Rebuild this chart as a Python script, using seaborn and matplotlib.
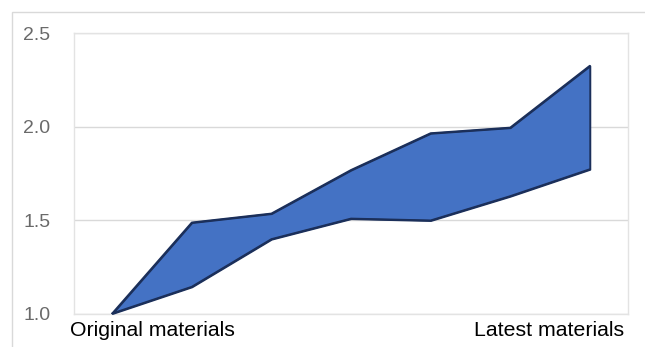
import matplotlib
matplotlib.use("Agg")
import matplotlib.pyplot as plt
import seaborn as sns
import pandas as pd
from matplotlib.patches import Rectangle

steps = [0, 1, 2, 3, 4, 5, 6]
upper = [1.0, 1.487, 1.535, 1.768, 1.965, 1.995, 2.326]
lower = [1.0, 1.143, 1.398, 1.508, 1.498, 1.628, 1.772]
y_ticks = [1.0, 1.5, 2.0, 2.5]
y_tick_labels = ["1.0", "1.5", "2.0", "2.5"]
x_labels = ["Original materials", "Latest materials"]

sns.set_theme(style="white")
plt.rcParams["font.family"] = ["Liberation Sans", "DejaVu Sans"]

df = pd.DataFrame({"step": steps, "upper": upper, "lower": lower})

fig = plt.figure(figsize=(6.45, 3.47), dpi=100)
ax = fig.add_axes([74 / 645, 1 - 313.5 / 347, (628 - 74) / 645, (313.5 - 33.3) / 347])

fill = "#4472C4"
edge = "#1B2F5A"
ax.fill_between(df["step"], df["lower"], df["upper"], facecolor=fill,
                edgecolor=edge, linewidth=1.4, zorder=3)
sns.lineplot(data=df, x="step", y="upper", color=edge, linewidth=1.4, ax=ax, zorder=4)
sns.lineplot(data=df, x="step", y="lower", color=edge, linewidth=1.4, ax=ax, zorder=4)

ax.set_xlim(-0.48, 6.48)
ax.set_ylim(1.0, 2.5)
ax.set_yticks(y_ticks)
ax.set_yticklabels(y_tick_labels, color="#6A6A6A", fontsize=14)
ax.tick_params(axis="y", length=0, pad=17)
ax.set_xticks([])
ax.set_xlabel("")
ax.set_ylabel("")
ax.grid(axis="y", color="#D9D9D9", linewidth=1)
ax.set_axisbelow(True)
for s in ax.spines.values():
    s.set_visible(True)
    s.set_color("#E3E3E3")
    s.set_linewidth(1)

ax.text(-0.008, -0.027, x_labels[0], transform=ax.transAxes, ha="left", va="top",
        fontsize=15.3, color="#000000")
ax.text(0.993, -0.027, x_labels[1], transform=ax.transAxes, ha="right", va="top",
        fontsize=15.3, color="#000000")

fig.patches.append(Rectangle((12 / 645, -0.1), 1.2, (1 - 12 / 347) + 0.1,
                             transform=fig.transFigure, fill=False,
                             edgecolor="#D9D9D9", linewidth=1, zorder=0))

fig.savefig("out.png", dpi=100)
